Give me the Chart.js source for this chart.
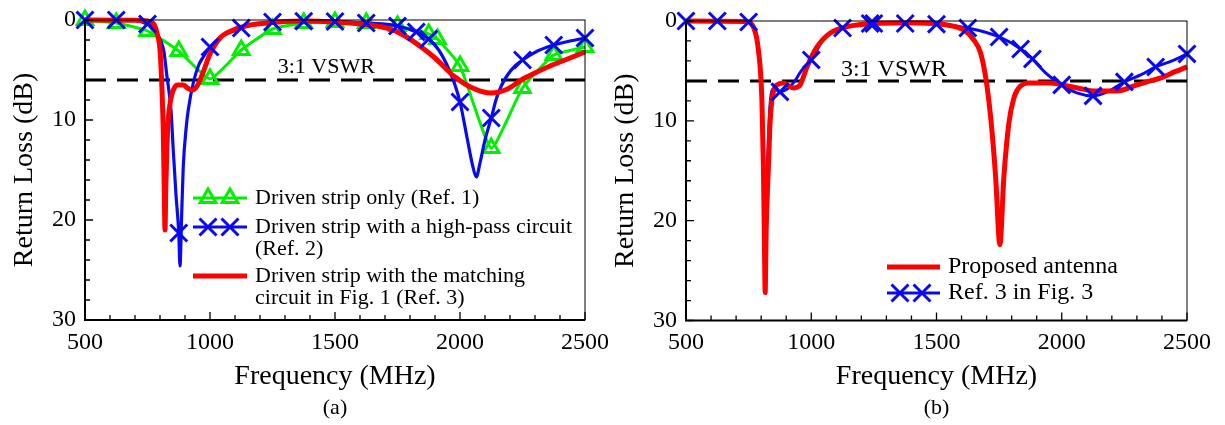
<!DOCTYPE html>
<html>
<head>
<meta charset="utf-8">
<script src="https://cdn.jsdelivr.net/npm/chart.js@4.4.1/dist/chart.umd.min.js"></script>
<style>
  html, body { margin: 0; padding: 0; background: #fff; }
  #wrap { position: relative; width: 1225px; height: 425px; overflow: hidden; }
  canvas { position: absolute; top: 0; }
  #chartA { left: 0; }
  #chartB { left: 600px; }
</style>
</head>
<body>
<div id="wrap">
  <canvas id="chartA" width="612" height="425"></canvas>
  <canvas id="chartB" width="625" height="425"></canvas>
</div>
<script>
/* Return loss vs frequency, two panels */

var SERIF = "'Liberation Serif', 'Times New Roman', Times, serif";

// axes
var FREQ_RANGE = [500, 2500];
var FREQ_TICKS = [500, 1000, 1500, 2000, 2500];
var FREQ_MINOR = 100;
var LOSS_RANGE = [0, 30];
var LOSS_TICKS = [0, 10, 20, 30];
var LOSS_MINOR = 2;
var VSWR_LOSS = 6;          // 3:1 VSWR reference line (dB)
var VSWR_TEXT = '3:1 VSWR';

// (a) Driven strip only (Ref. 1) -- measured points joined by line
var aStripOnly = [[500, 0], [625, 0.3], [750, 1.1], [875, 3.1], [1000, 5.9], [1125, 3.0], [1250, 0.9],
  [1375, 0.3], [1500, 0.2], [1625, 0.3], [1750, 0.6], [1875, 1.4], [1910, 1.9], [2000, 4.6],
  [2125, 12.8], [2250, 6.8], [2375, 3.5], [2500, 2.7]];

// (a) Driven strip with a high-pass circuit (Ref. 2)
var aHighPass = [[500, 0], [700, 0.05], [750, 0.4], [775, 0.7], [787, 1.3], [805, 2.2], [816, 3.2],
  [827, 5.5], [844, 9], [853, 13], [864, 17.5], [875, 21.3], [880, 24.6], [886, 20], [893, 14.7],
  [905, 10.7], [913, 9.0], [933, 6.3], [955, 4.5], [973, 3.7], [1000, 2.7], [1050, 1.6], [1107, 1.0],
  [1125, 0.8], [1230, 0.25], [1300, 0.15], [1400, 0.12], [1500, 0.15], [1625, 0.3], [1750, 0.6],
  [1825, 1.2], [1875, 1.9], [1915, 3.0], [1957, 5.0], [1980, 6.5], [2000, 8.2], [2030, 12],
  [2050, 14.5], [2065, 15.7], [2080, 14.3], [2100, 12], [2125, 9.8], [2145, 7.9], [2165, 6.6],
  [2190, 5.5], [2220, 4.6], [2250, 4.0], [2310, 3.1], [2375, 2.5], [2440, 2.1], [2500, 1.8]];
var aHighPassMarks = [[500, 0], [625, 0], [750, 0.4], [875, 21.3], [1000, 2.7], [1125, 0.8], [1250, 0.2],
  [1375, 0.12], [1500, 0.15], [1625, 0.3], [1750, 0.6], [1825, 1.2], [1875, 1.9], [2000, 8.2],
  [2125, 9.8], [2250, 4.0], [2375, 2.5], [2500, 1.8]];

// (a) Driven strip with the matching circuit in Fig. 1 (Ref. 3)
var aMatching = [[500, 0], [700, 0.02], [750, 0.1], [775, 0.4], [790, 1.5], [800, 3.0], [808, 7],
  [813, 11], [817, 17], [820, 21], [823, 17], [828, 12.5], [833, 10], [840, 8.4], [847, 7.5],
  [857, 6.8], [870, 6.5], [893, 6.5], [910, 6.8], [927, 7.0], [943, 6.8], [955, 6.3], [973, 5.2],
  [1000, 3.4], [1040, 1.8], [1093, 1.0], [1160, 0.5], [1230, 0.3], [1300, 0.15], [1370, 0.1],
  [1500, 0.2], [1640, 0.5], [1720, 0.9], [1780, 1.6], [1850, 2.8], [1900, 3.8], [1975, 5.6],
  [2050, 6.8], [2125, 7.3], [2190, 6.9], [2245, 6.0], [2300, 5.3], [2360, 4.6], [2430, 3.9],
  [2500, 3.2]];

// (b) Proposed antenna
var bProposed = [[500, 0], [740, 0.05], [769, 0.6], [789, 2.9], [803, 7.9], [809, 14.6], [813, 22],
  [816, 27.2], [820, 21], [829, 14.6], [836, 10], [843, 7.9], [852, 6.8], [863, 6.4], [889, 6.2],
  [910, 6.5], [929, 6.7], [945, 6.6], [956, 6.4], [983, 4.6], [1023, 2.6], [1076, 1.2], [1143, 0.57],
  [1276, 0.23], [1409, 0.17], [1543, 0.4], [1609, 0.9], [1649, 1.9], [1676, 3.2], [1696, 5.6],
  [1716, 9.6], [1736, 15.6], [1753, 22.4], [1769, 15.6], [1789, 10.2], [1809, 7.7], [1823, 6.9],
  [1836, 6.5], [1863, 6.2], [1956, 6.2], [2023, 6.5], [2080, 6.8], [2129, 7.0], [2223, 7.0],
  [2289, 6.5], [2340, 6.1], [2396, 5.7], [2450, 5.1], [2500, 4.6]];

// (b) Ref. 3 in Fig. 3
var bRef3 = [[500, 0], [740, 0.05], [770, 0.6], [790, 2.9], [803, 7.5], [810, 14], [818, 21], [826, 14],
  [835, 8.6], [850, 6.8], [876, 7.1], [905, 6.8], [935, 6.0], [960, 5.0], [1000, 3.9], [1050, 1.8],
  [1125, 0.7], [1245, 0.25], [1375, 0.25], [1500, 0.32], [1625, 0.7], [1750, 1.6], [1836, 2.8],
  [1883, 3.8], [1940, 5.3], [2000, 6.4], [2060, 7.2], [2125, 7.5], [2190, 7.0], [2250, 6.1],
  [2315, 5.4], [2375, 4.6], [2440, 4.0], [2500, 3.3]];
var bRef3Marks = [[500, 0], [625, 0], [750, 0.1], [875, 7.1], [1000, 3.9], [1125, 0.7], [1235, 0.25],
  [1250, 0.25], [1375, 0.25], [1500, 0.32], [1625, 0.7], [1750, 1.6], [1836, 2.8], [1883, 3.8],
  [2000, 6.4], [2125, 7.5], [2250, 6.1], [2375, 4.6], [2500, 3.3]];

var GREEN = '#00f000';
var BLUE = '#0a0aef';
var RED = '#ff0000';

function pts(pairs) {
  return pairs.map(function (p) { return { x: p[0], y: p[1] }; });
}

function curve(pairs, color, width, order) {
  return {
    data: pts(pairs), borderColor: color, borderWidth: width, pointRadius: 0,
    cubicInterpolationMode: 'monotone', borderJoinStyle: 'round', clip: false, order: order
  };
}

function marks(pairs, color, style, radius, order) {
  return {
    data: pts(pairs), showLine: false, pointStyle: style, pointRadius: radius,
    pointBorderColor: color, pointBackgroundColor: 'rgba(0,0,0,0)', pointBorderWidth: 3,
    clip: false, order: order
  };
}

function vswrLine() {
  return {
    data: [{ x: FREQ_RANGE[0], y: VSWR_LOSS }, { x: FREQ_RANGE[1], y: VSWR_LOSS }],
    borderColor: '#000', borderWidth: 3, borderDash: [21, 11], pointRadius: 0, clip: false, order: 10
  };
}

function drawMarker(ctx, style, color, x, y, r) {
  ctx.strokeStyle = color;
  ctx.fillStyle = 'rgba(0,0,0,0)';
  ctx.lineWidth = 3;
  Chart.helpers.drawPoint(ctx, { pointStyle: style, radius: r, rotation: 0, borderWidth: 3 }, x, y);
}

// inward ticks, frame, VSWR label and the in-plot legend
var panelPlugin = {
  id: 'panelDecor',
  afterDatasetsDraw: function (chart, args, o) {
    var ctx = chart.ctx, a = chart.chartArea;
    var xs = chart.scales.x, ys = chart.scales.y;
    ctx.save();
    ctx.strokeStyle = '#000';
    ctx.lineWidth = 1.3;
    ctx.beginPath();
    for (var f = FREQ_RANGE[0]; f <= FREQ_RANGE[1]; f += FREQ_MINOR) {
      var px = xs.getPixelForValue(f);
      var len = FREQ_TICKS.indexOf(f) >= 0 ? 8 : 5;
      ctx.moveTo(px, a.bottom); ctx.lineTo(px, a.bottom - len);
    }
    for (var v = LOSS_RANGE[0]; v <= LOSS_RANGE[1]; v += LOSS_MINOR) {
      var py = ys.getPixelForValue(v);
      var l2 = LOSS_TICKS.indexOf(v) >= 0 ? 8 : 5;
      ctx.moveTo(a.left, py); ctx.lineTo(a.left + l2, py);
    }
    ctx.stroke();

    ctx.lineWidth = 1;
    ctx.strokeRect(a.left, a.top, a.right - a.left, a.bottom - a.top);
    ctx.lineWidth = 2;
    ctx.beginPath();
    ctx.moveTo(a.left, a.top); ctx.lineTo(a.left, a.bottom); ctx.lineTo(a.right, a.bottom);
    ctx.stroke();

    ctx.fillStyle = '#000';
    ctx.font = o.labelSize + 'px ' + SERIF;
    ctx.textAlign = 'center';
    ctx.textBaseline = 'alphabetic';
    ctx.fillText(VSWR_TEXT, xs.getPixelForValue(o.labelFreq), ys.getPixelForValue(o.labelLoss));

    // legend
    var lg = o.legend;
    ctx.font = lg.size + 'px ' + SERIF;
    ctx.textAlign = 'left';
    ctx.textBaseline = 'middle';
    lg.items.forEach(function (it) {
      ctx.strokeStyle = it.color;
      ctx.lineWidth = it.width;
      ctx.beginPath();
      ctx.moveTo(lg.x0, it.y); ctx.lineTo(lg.x1, it.y);
      ctx.stroke();
      if (it.marker) {
        lg.marks.forEach(function (mx) { drawMarker(ctx, it.marker, it.color, mx, it.y, it.r); });
      }
      ctx.fillStyle = '#000';
      it.text.forEach(function (t, i) { ctx.fillText(t, lg.textX, it.y + i * lg.gap); });
    });
    ctx.restore();
  }
};

function plainLabel(v) { return String(v); }

function buildPanel(canvasId, p) {
  return new Chart(document.getElementById(canvasId), {
    type: 'line',
    data: { datasets: p.datasets },
    options: {
      responsive: false,
      animation: false,
      events: [],
      layout: { padding: { left: 0, right: p.padRight, top: p.padTop, bottom: 0 } },
      plugins: {
        legend: { display: false },
        tooltip: { enabled: false },
        title: {
          display: true, position: 'bottom', fullSize: false, text: p.caption,
          color: '#000', font: { family: SERIF, size: 22, weight: 'normal' },
          padding: { top: 0, bottom: 4 }
        },
        panelDecor: p.decor
      },
      scales: {
        x: {
          type: 'linear', min: FREQ_RANGE[0], max: FREQ_RANGE[1],
          afterBuildTicks: function (s) { s.ticks = FREQ_TICKS.map(function (t) { return { value: t }; }); },
          afterFit: function (s) { s.height = p.xHeight; s.paddingLeft = 0; s.paddingRight = 0; },
          grid: { display: false, drawTicks: false },
          border: { display: false },
          ticks: { color: '#000', padding: 8, maxRotation: 0, callback: plainLabel,
            font: { family: SERIF, size: 24 } },
          title: {
            display: true, text: 'Frequency (MHz)', color: '#000',
            font: { family: SERIF, size: 28 }, padding: { top: 0, bottom: 1 }
          }
        },
        y: {
          type: 'linear', min: LOSS_RANGE[0], max: LOSS_RANGE[1], reverse: true,
          afterBuildTicks: function (s) { s.ticks = LOSS_TICKS.map(function (t) { return { value: t }; }); },
          afterFit: function (s) { s.width = p.yWidth; s.paddingTop = 0; s.paddingBottom = 0; },
          grid: { display: false, drawTicks: false },
          border: { display: false },
          ticks: { color: '#000', padding: 9, callback: plainLabel, font: { family: SERIF, size: 24 } },
          title: {
            display: true, text: 'Return Loss (dB)', color: '#000',
            font: { family: SERIF, size: 28 }, padding: { top: p.yTitlePad, bottom: 0 }
          }
        }
      }
    },
    plugins: [panelPlugin]
  });
}

buildPanel('chartA', {
  caption: '(a)', padRight: 27, padTop: 20, yWidth: 85, xHeight: 74.6, yTitlePad: 8,
  datasets: [
    marks(aHighPassMarks, BLUE, 'crossRot', 12, 1),
    curve(aMatching, RED, 5, 2),
    curve(aHighPass, BLUE, 3.2, 3),
    Object.assign(marks(aStripOnly, GREEN, 'triangle', 9, 4),
      { showLine: true, borderColor: GREEN, borderWidth: 3, tension: 0.15 }),
    vswrLine()
  ],
  decor: {
    labelSize: 22, labelFreq: 1465, labelLoss: 5.3,
    legend: {
      size: 22, x0: 193, x1: 247, marks: [208, 230], textX: 255, gap: 22,
      items: [
        { color: GREEN, width: 3, marker: 'triangle', r: 9, y: 198, text: ['Driven strip only (Ref. 1)'] },
        { color: BLUE, width: 3.2, marker: 'crossRot', r: 12, y: 227, text: ['Driven strip with a high-pass circuit', '(Ref. 2)'] },
        { color: RED, width: 5, y: 276, text: ['Driven strip with the matching', 'circuit in Fig. 1 (Ref. 3)'] }
      ]
    }
  }
});

buildPanel('chartB', {
  caption: '(b)', padRight: 38, padTop: 21, yWidth: 86, xHeight: 74.1, yTitlePad: 9,
  datasets: [
    marks(bRef3Marks, BLUE, 'crossRot', 12, 1),
    curve(bProposed, RED, 5, 2),
    curve(bRef3, BLUE, 3, 3),
    vswrLine()
  ],
  decor: {
    labelSize: 24, labelFreq: 1330, labelLoss: 5.5,
    legend: {
      size: 24, x0: 287, x1: 340, marks: [300, 322], textX: 348, gap: 24,
      items: [
        { color: RED, width: 5, y: 267, text: ['Proposed antenna'] },
        { color: BLUE, width: 3, marker: 'crossRot', r: 12, y: 293, text: ['Ref. 3 in Fig. 3'] }
      ]
    }
  }
});
</script>
</body>
</html>
